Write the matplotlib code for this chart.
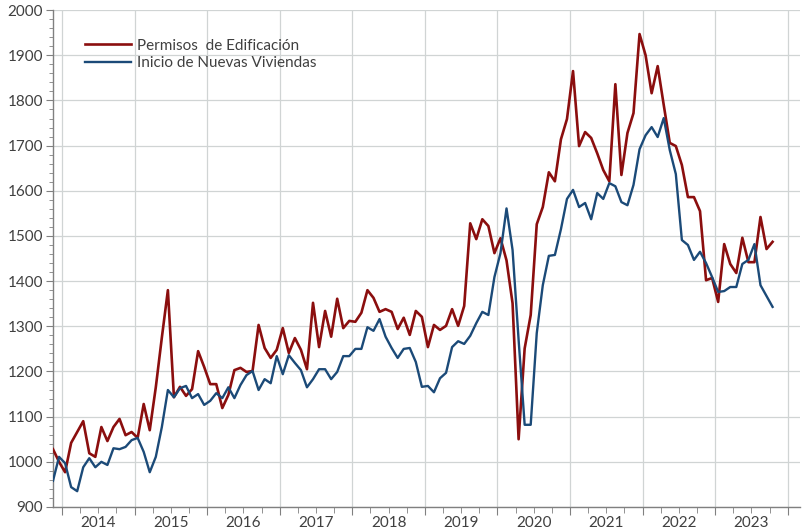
import matplotlib
matplotlib.use('Agg')
import matplotlib.pyplot as plt
from matplotlib.ticker import MultipleLocator, FixedLocator, NullFormatter
import numpy as np
import pandas as pd

# monthly data, Nov 2013 - Oct 2023 (thousands of units, SAAR)
months = pd.date_range('2013-11-01', periods=120, freq='MS')

permisos = [
    1028, 1000, 977, 1042, 1066, 1090, 1019, 1011, 1077, 1046,
    1077, 1095, 1059, 1066, 1053, 1128, 1070, 1165, 1275, 1380,
    1143, 1166, 1146, 1161, 1245, 1210, 1172, 1172, 1119, 1148,
    1203, 1208, 1199, 1201, 1303, 1252, 1230, 1248, 1296, 1241,
    1274, 1248, 1205, 1352, 1254, 1334, 1277, 1361, 1296, 1312,
    1310, 1330, 1380, 1363, 1332, 1338, 1332, 1294, 1319, 1281,
    1334, 1321, 1254, 1303, 1292, 1301, 1338, 1301, 1345, 1528,
    1493, 1537, 1522, 1462, 1495, 1446, 1351, 1050, 1251, 1325,
    1526, 1564, 1641, 1621, 1714, 1759, 1865, 1699, 1730, 1717,
    1683, 1646, 1621, 1836, 1635, 1728, 1772, 1947, 1900, 1816,
    1876, 1790, 1706, 1699, 1657, 1586, 1586, 1555, 1402, 1407,
    1354, 1482, 1438, 1418, 1496, 1442, 1442, 1542, 1471, 1487,
]

inicios = [
    958, 1011, 997, 944, 935, 988, 1008, 988, 1000, 993,
    1030, 1028, 1033, 1048, 1053, 1022, 977, 1011, 1077, 1159,
    1143, 1163, 1168, 1141, 1150, 1126, 1135, 1152, 1141, 1165,
    1141, 1170, 1192, 1201, 1159, 1183, 1174, 1234, 1194, 1236,
    1219, 1203, 1165, 1183, 1205, 1205, 1183, 1199, 1234, 1234,
    1250, 1250, 1298, 1290, 1316, 1277, 1252, 1230, 1250, 1252,
    1221, 1166, 1168, 1154, 1185, 1197, 1254, 1267, 1261, 1279,
    1307, 1332, 1325, 1409, 1462, 1561, 1469, 1270, 1082, 1082,
    1285, 1391, 1456, 1458, 1515, 1582, 1602, 1564, 1573, 1537,
    1595, 1582, 1617, 1610, 1575, 1568, 1613, 1692, 1723, 1741,
    1719, 1761, 1690, 1637, 1491, 1480, 1447, 1465, 1440, 1409,
    1376, 1378, 1387, 1387, 1438, 1447, 1482, 1391, 1367, 1343,
]

red = '#8B0E0E'
blue = '#1B4A78'
txt = '#404040'

plt.rcParams['font.family'] = ['Lato', 'DejaVu Sans']

fig = plt.figure(figsize=(8.03, 5.32), dpi=100)
ax = fig.add_axes([0.066, 0.047, 0.93, 0.934])

x = np.arange(len(months))
ax.plot(x, permisos, color=red, lw=1.9, label='Permisos  de Edificación', zorder=3)
ax.plot(x, inicios, color=blue, lw=1.7, label='Inicio de Nuevas Viviendas', zorder=3)

ax.set_ylim(900, 2000)
ax.set_xlim(0, 123.5)

# year boundaries and quarter ticks
jan = x[months.month == 1] - 0.5
jan = np.append(jan, jan[-1] + 12)
quarters = x[months.month.isin([4, 7, 10])] - 0.5
ax.xaxis.set_major_locator(FixedLocator(jan))
ax.xaxis.set_major_formatter(NullFormatter())
ax.xaxis.set_minor_locator(FixedLocator(quarters))
ax.tick_params(axis='x', which='major', length=6, color='#808080', direction='out')
ax.tick_params(axis='x', which='minor', length=4, color='#808080', direction='out')
for b in jan[:-1]:
    ax.annotate(str(months[int(b + 0.5)].year), xy=(b + 6, 900), xytext=(0, -6.5),
                textcoords='offset points', ha='center', va='top',
                fontsize=11, color=txt, annotation_clip=False)

ax.yaxis.set_major_locator(MultipleLocator(100))
ax.yaxis.set_minor_locator(MultipleLocator(20))
ax.tick_params(axis='y', which='major', length=5, color='#808080', labelsize=11,
               labelcolor=txt, pad=2)
ax.tick_params(axis='y', which='minor', length=3, color='#808080')

ax.grid(True, which='major', color='#D0D4D4', lw=0.9)
ax.set_axisbelow(True)

for s in ['top', 'right']:
    ax.spines[s].set_visible(False)
for s in ['left', 'bottom']:
    ax.spines[s].set_color('#808080')
    ax.spines[s].set_linewidth(1.0)

leg = ax.legend(loc='upper left', bbox_to_anchor=(0.035, 0.955), frameon=False,
                fontsize=11, handlelength=3.0, handletextpad=0.4,
                labelspacing=0.22, borderaxespad=0)
for t in leg.get_texts():
    t.set_color(txt)

fig.savefig('out.png', dpi=100)
